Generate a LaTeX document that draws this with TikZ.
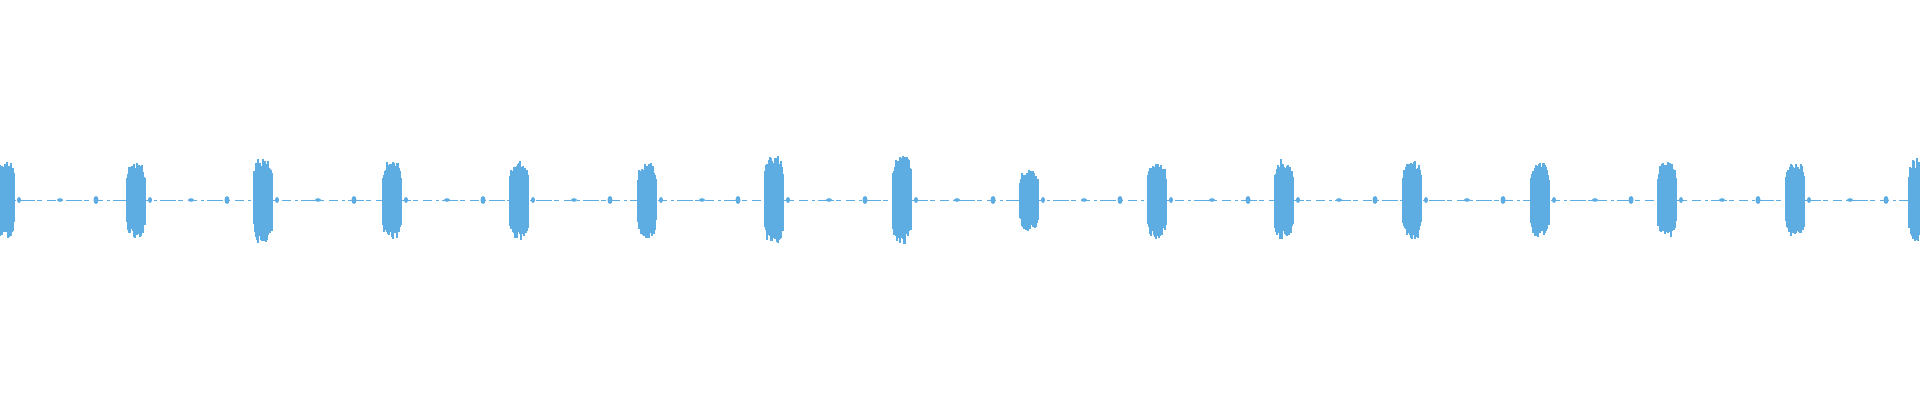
\documentclass[tikz,border=0pt]{standalone}
\definecolor{wave}{RGB}{93,173,226}
\tikzset{
  burst/.style={draw=wave, line width=1.1pt},
  baseline/.style={draw=wave, line width=0.9pt, dash pattern=on 9pt off 4pt on 3pt off 3pt on 16pt off 2pt on 5pt off 5pt},
  blip/.style={fill=wave}
}
\begin{document}
\begin{tikzpicture}[x=1pt,y=-1pt]
  \useasboundingbox (0,0) rectangle (1920,400);
  \pgfmathsetseed{7}
  % baseline
  \coordinate (left) at (0,200);
  \coordinate (right) at (1920,200);
  \draw[baseline] (left) -- (right);
  % bursts: centre/half height
  \foreach \cx/\amp in {5/40,136/38,263/44,392/40,519/40,647/38,774/45,902/45,1029/31,1157/39,1284/41,1412/40,1540/38,1667/39,1795/39,1918/42}{
    \foreach \dx in {-9,-8,...,9}{
      \pgfmathsetmacro{\h}{\amp*(0.75+0.25*rnd)*(1-0.3*(\dx/9)^4)}
      \pgfmathsetmacro{\g}{\amp*(0.75+0.25*rnd)*(1-0.3*(\dx/9)^4)}
      \draw[burst] (\cx+\dx,200-\h) -- (\cx+\dx,200+\g);
    }
    % small blips between bursts
    \fill[blip] (\cx+91,200) ellipse (2.5pt and 4pt);
    \fill[blip] (\cx+14,200) ellipse (2pt and 3pt);
    \fill[blip] (\cx+55,200) ellipse (3pt and 1.8pt);
  }
\end{tikzpicture}
\end{document}
